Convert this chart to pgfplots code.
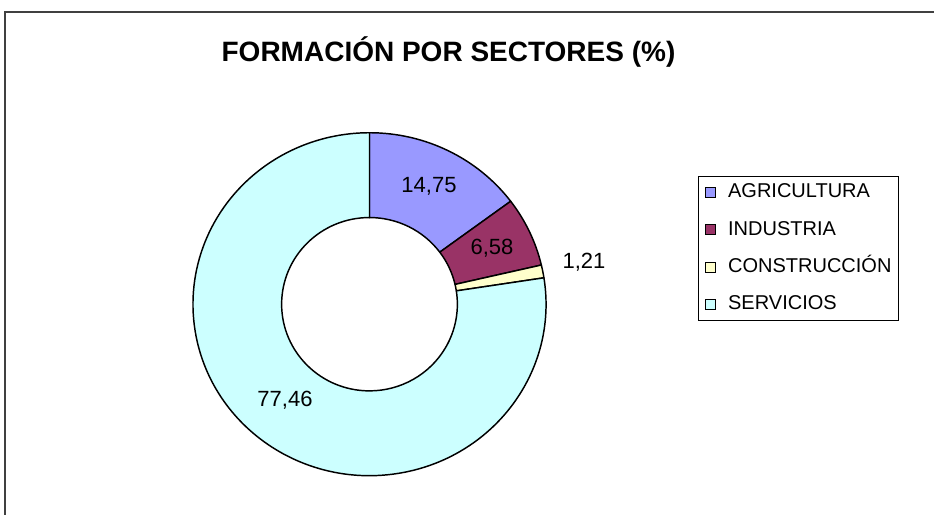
\documentclass[border=0pt]{standalone}
\usepackage{fontspec}
\setmainfont{Liberation Sans}
\usepackage{pgfplots}
\pgfplotsset{compat=1.18}

\definecolor{cAgr}{HTML}{9999FF}
\definecolor{cInd}{HTML}{993366}
\definecolor{cCon}{HTML}{FFFFCC}
\definecolor{cSer}{HTML}{CCFFFF}

% ring radii (pt), pixel coords: 1 unit = 0.75pt
\def\Rx{132.4pt}\def\Ry{128.6pt}
\def\rx{65.9pt}\def\ry{65.0pt}
% #1 = cumulative start (%), #2 = value (%), #3 = colour
\newcommand\sector[3]{%
  \fill[fill=#3, draw=black, line width=1.1pt, line join=round,
        shift={(axis cs:369.5,304.2)}]
    ({90-3.6*(#1)}:\Rx\space and \Ry)
    arc[start angle={90-3.6*(#1)}, end angle={90-3.6*(#1+#2)}, x radius=\Rx, y radius=\Ry]
    -- ({90-3.6*(#1+#2)}:\rx\space and \ry)
    arc[start angle={90-3.6*(#1+#2)}, end angle={90-3.6*(#1)}, x radius=\rx, y radius=\ry]
    -- cycle;}

\begin{document}
\begin{tikzpicture}
\begin{axis}[
  scale only axis, width=700.5pt, height=385.5pt,
  xmin=0, xmax=934, ymin=0, ymax=514, y dir=reverse,
  hide axis, clip=false,
  legend image code/.code={\draw[#1, draw=black, line width=0.75pt] (0pt,-3.75pt) rectangle (7.5pt,3.75pt);},
  legend style={at={(0.7473,0.6576)}, anchor=north west, draw=black, line width=0.75pt,
    font=\fontsize{15}{17}\selectfont, inner xsep=5pt, inner ysep=5pt,
    row sep=14pt, nodes={inner sep=0pt, text height=11pt, text depth=3pt}},
  legend cell align=left,
  /tikz/every odd column/.append style={column sep=9pt},
]
\addlegendimage{fill=cAgr}
\addlegendentry{AGRICULTURA}
\addlegendimage{fill=cInd}
\addlegendentry{INDUSTRIA}
\addlegendimage{fill=cCon}
\addlegendentry{CONSTRUCCIÓN}
\addlegendimage{fill=cSer}
\addlegendentry{SERVICIOS}

\sector{0}{14.75}{cAgr}
\sector{14.75}{6.58}{cInd}
\sector{21.33}{1.21}{cCon}
\sector{22.54}{77.46}{cSer}

\node[font=\fontsize{16.5}{19}\selectfont] at (axis cs:429,186) {14,75};
\node[font=\fontsize{16.5}{19}\selectfont] at (axis cs:492,248) {6,58};
\node[font=\fontsize{16.5}{19}\selectfont] at (axis cs:584,262) {1,21};
\node[font=\fontsize{16.5}{19}\selectfont] at (axis cs:285,400) {77,46};

\node[font=\bfseries\fontsize{21}{25}\selectfont, anchor=base] at (axis cs:448.5,61) {FORMACIÓN POR SECTORES (\%)};

\draw[line width=1.1pt, black!75] (axis cs:5,530) |- (axis cs:950,12);
\end{axis}
\pgfresetboundingbox
\path (current axis.south west) rectangle (current axis.north east);
\end{tikzpicture}
\end{document}
